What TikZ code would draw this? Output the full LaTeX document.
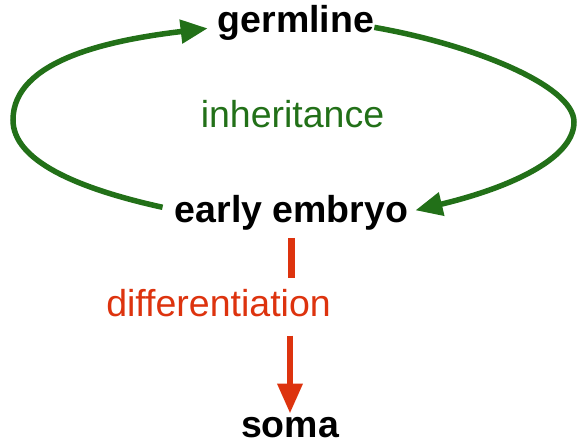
\documentclass[tikz,border=0pt]{standalone}
\usepackage{fontspec}
\setmainfont{Liberation Sans}
\usetikzlibrary{arrows.meta}
\definecolor{cgreen}{RGB}{34,112,24}
\definecolor{cred}{RGB}{221,51,14}
\tikzset{
  term/.style={anchor=base, inner sep=4pt, font=\fontsize{37.5}{40}\selectfont\bfseries, text=black},
  lbl/.style={anchor=base, inner sep=4pt, font=\fontsize{37.5}{40}\selectfont},
  garrow/.style={draw=cgreen, line width=5.5pt, -{Triangle[length=27pt,width=23pt]}},
  rline/.style={draw=cred, line width=6.5pt},
  rarrow/.style={rline, -{Triangle[length=30pt,width=24pt]}}
}
\begin{document}
\begin{tikzpicture}[x=1pt,y=-1pt]
\useasboundingbox (0,0) rectangle (582,446);
\node[term] (g) at (296,33) {germline};
\node[term] (ee) at (291.5,223) {early embryo};
\node[term] (soma) at (290,438) {soma};
\node[lbl, text=cgreen] (inh) at (292.5,128) {inheritance};
\node[lbl, text=cred, inner ysep=11.5pt] (diff) at (218.5,317) {differentiation};
% left arc: early embryo -> germline
\draw[garrow] ([shift={(-8,-6)}]ee.west) .. controls (75,188) and (13,160) .. (13,120)
   .. controls (13,60) and (110,40) .. ([shift={(-6,5)}]g.west);
% right arc: germline -> early embryo
\draw[garrow] ([shift={(-4,4)}]g.east) .. controls (470,44) and (574,85) .. (574,122)
   .. controls (574,160) and (505,189) .. ([shift={(3,-3)}]ee.east);
% differentiation
\draw[rline] ([shift={(0,3)}]ee.south) -- (ee.south |- diff.north);
\draw[rarrow] ([shift={(0,6.5)}]soma.north |- diff.south) -- (soma.north);
\end{tikzpicture}
\end{document}
